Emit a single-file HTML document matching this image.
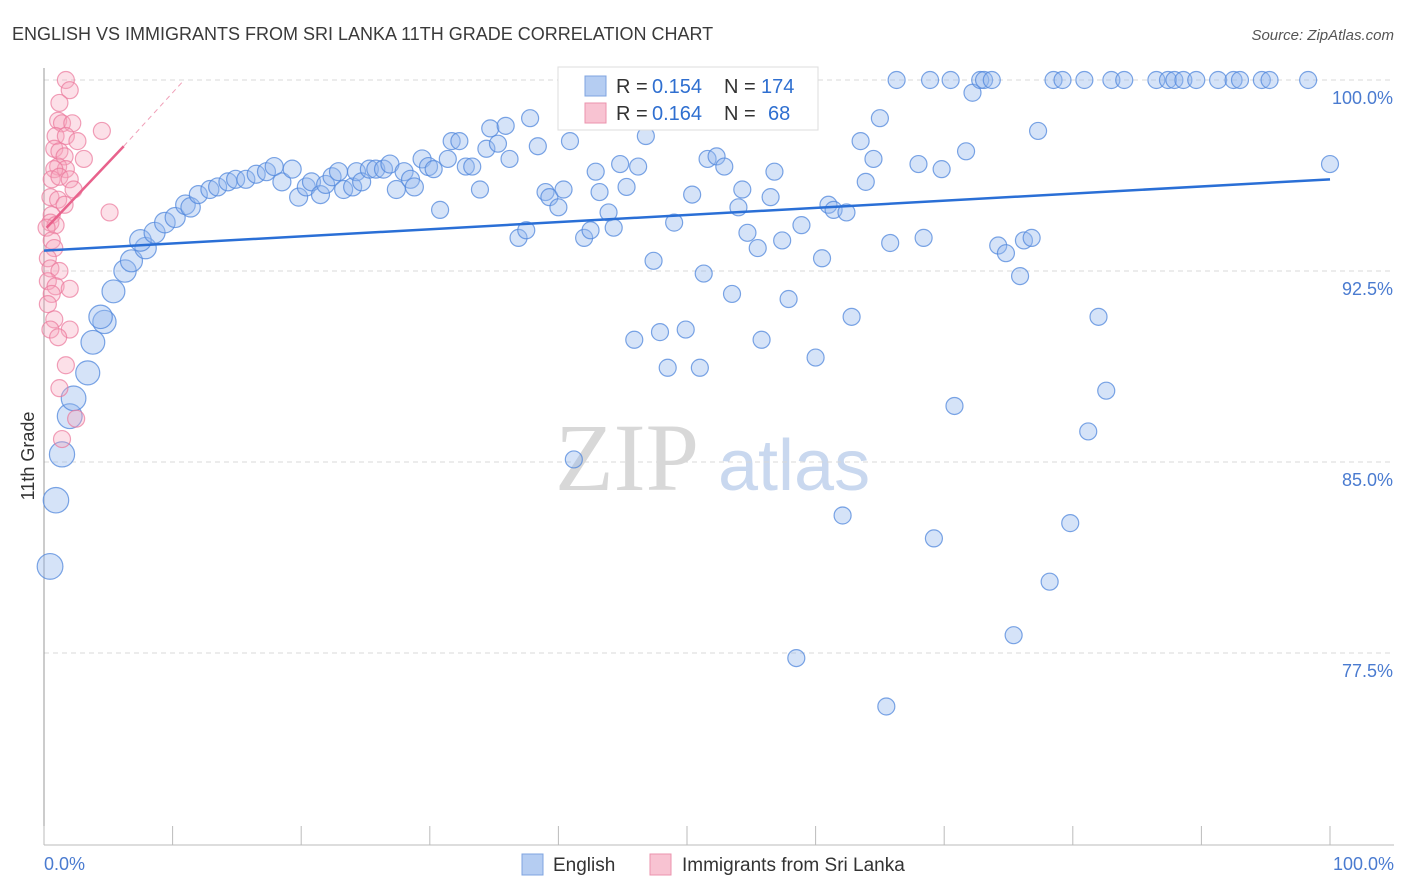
<!DOCTYPE html>
<html><head><meta charset="utf-8"><style>
body{margin:0;background:#fff;font-family:"Liberation Sans",sans-serif}
svg{display:block}
</style></head><body>
<svg id="chart" width="1406" height="892" xmlns="http://www.w3.org/2000/svg" font-family="Liberation Sans, sans-serif">
<text x="12" y="40" font-size="18" fill="#3a3a3a">ENGLISH VS IMMIGRANTS FROM SRI LANKA 11TH GRADE CORRELATION CHART</text>
<text x="1394" y="40" font-size="15" fill="#555" text-anchor="end" font-style="italic">Source: ZipAtlas.com</text>
<g>
<text x="555" y="490" font-size="96" font-family="Liberation Serif, serif" fill="#d8d8d8">ZIP</text>
<text x="718" y="490" font-size="72" fill="#c9d8ef">atlas</text>
</g>
<g id="grid"></g>
<g id="axes"></g>
<g id="pts"></g>
<g id="trend"></g>
<g>
<rect x="558" y="67" width="260" height="63" fill="#fff" stroke="#ddd"/>
<rect x="585" y="76" width="21" height="20" fill="#b5cdf2" stroke="#7fa4e0"/>
<text x="616" y="93" font-size="20" fill="#333">R =</text>
<text x="652" y="93" font-size="20" fill="#2f6fd0">0.154</text>
<text x="724" y="93" font-size="20" fill="#333">N =</text>
<text x="761" y="93" font-size="20" fill="#2f6fd0">174</text>
<rect x="585" y="103" width="21" height="20" fill="#f8c3d2" stroke="#eb93ad"/>
<text x="616" y="120" font-size="20" fill="#333">R =</text>
<text x="652" y="120" font-size="20" fill="#2f6fd0">0.164</text>
<text x="724" y="120" font-size="20" fill="#333">N =</text>
<text x="768" y="120" font-size="20" fill="#2f6fd0">68</text>
</g>
<g>
<rect x="522" y="854" width="21" height="21" fill="#b5cdf2" stroke="#7fa4e0"/>
<text x="553" y="871" font-size="19" fill="#333">English</text>
<rect x="650" y="854" width="21" height="21" fill="#f8c3d2" stroke="#eb93ad"/>
<text x="682" y="871" font-size="19" fill="#333">Immigrants from Sri Lanka</text>
</g>
<text transform="translate(34,456) rotate(-90)" font-size="18" fill="#333" text-anchor="middle">11th Grade</text>
</svg>
<script>
const yTicks=[100,92.5,85,77.5];
const yTickLabels=["100.0%","92.5%","85.0%","77.5%"];
const blueX=[0.47,0.93,1.4,2.0,2.3,3.4,3.8,4.7,4.4,5.4,6.3,6.8,7.9,7.5,8.6,9.4,10.2,11.0,11.4,12.0,12.9,13.5,14.3,14.9,15.7,16.5,17.3,17.9,18.5,19.3,19.8,20.4,20.8,21.5,21.9,22.4,22.9,23.3,24.0,24.3,24.7,25.3,25.8,26.4,26.9,27.4,28.0,28.5,28.8,29.4,29.9,30.3,30.8,31.4,31.7,32.3,32.8,33.3,33.9,34.4,34.7,35.3,35.9,36.2,36.9,37.5,37.8,38.4,39.0,39.3,40.0,40.4,40.9,41.2,42.0,42.5,42.9,43.2,43.9,44.3,44.8,45.3,45.9,46.2,46.8,47.4,47.9,48.5,49.0,49.9,50.4,51.0,51.3,51.6,52.3,52.9,53.5,54.0,54.3,54.7,55.5,55.8,56.5,56.8,57.4,57.9,58.5,58.9,59.4,60.0,60.5,61.0,61.4,62.1,62.4,62.8,63.5,63.9,64.5,65.0,65.5,65.8,66.3,68.0,68.4,68.9,69.2,69.8,70.5,70.8,71.7,72.2,72.8,73.1,73.7,74.2,74.8,75.4,75.9,76.2,76.8,77.3,78.2,78.5,79.2,79.8,80.9,81.2,82.0,82.6,83.0,84.0,86.5,87.4,87.9,88.6,89.6,91.3,92.5,93.0,94.7,95.3,98.3,100];
const blueY=[80.9,83.5,85.3,86.8,87.5,88.5,89.7,90.5,90.7,91.7,92.5,92.9,93.4,93.7,94.0,94.4,94.6,95.1,95.0,95.5,95.7,95.8,96.0,96.1,96.1,96.3,96.4,96.6,96.0,96.5,95.4,95.8,96.0,95.5,95.9,96.2,96.4,95.7,95.8,96.4,96.0,96.5,96.5,96.5,96.7,95.7,96.4,96.1,95.8,96.9,96.6,96.5,94.9,96.9,97.6,97.6,96.6,96.6,95.7,97.3,98.1,97.5,98.2,96.9,93.8,94.1,98.5,97.4,95.6,95.4,95.0,95.7,97.6,85.1,93.8,94.1,96.4,95.6,94.8,94.2,96.7,95.8,89.8,96.6,97.8,92.9,90.1,88.7,94.4,90.2,95.5,88.7,92.4,96.9,97.0,96.6,91.6,95.0,95.7,94.0,93.4,89.8,95.4,96.4,93.7,91.4,77.3,94.3,99.5,89.1,93.0,95.1,94.9,82.9,94.8,90.7,97.6,96.0,96.9,98.5,75.4,93.6,100,96.7,93.8,100,82.0,96.5,100,87.2,97.2,99.5,100,100,100,93.5,93.2,78.2,92.3,93.7,93.8,98.0,80.3,100,100,82.6,100,86.2,90.7,87.8,100,100,100,100,100,100,100,100,100,100,100,100,100,96.7];
const pinkX=[1.7,2.0,1.2,1.1,1.4,2.2,4.5,0.9,1.7,2.6,0.8,1.2,1.6,3.1,1.1,1.7,0.8,0.6,1.2,2.0,2.3,0.5,1.1,1.6,5.1,0.6,0.5,0.9,0.2,0.6,0.8,0.3,0.5,1.2,0.3,0.9,0.6,2.0,0.3,0.8,0.5,2.0,1.1,1.7,1.2,2.5,1.4];
const pinkY=[100,99.6,99.1,98.4,98.3,98.3,98.0,97.8,97.8,97.6,97.3,97.2,97.0,96.9,96.6,96.5,96.5,96.1,96.2,96.1,95.7,95.4,95.3,95.1,94.8,94.7,94.4,94.3,94.2,93.7,93.4,93.0,92.6,92.5,92.1,91.9,91.6,91.8,91.2,90.6,90.2,90.2,89.9,88.8,87.9,86.7,85.9];
const blueTrend=[[0,93.3],[100,96.1]];
const pinkTrend=[[0.2,94.2],[6.2,97.4]];
const pinkTrendExt=[[6.2,97.4],[10.9,100]];

const NS="http://www.w3.org/2000/svg";
const X0=44,X1=1330,Y100=80,PXPER=191/7.5;
const sx=v=>X0+(X1-X0)*v/100;
const sy=v=>Y100+(100-v)*PXPER;
function mk(tag,attrs,parent){const e=document.createElementNS(NS,tag);for(const k in attrs)e.setAttribute(k,attrs[k]);parent.appendChild(e);return e;}
const grid=document.getElementById('grid'),axes=document.getElementById('axes');
yTicks.forEach((t,i)=>{
  const l=mk('line',{x1:44,x2:1394,y1:sy(t),y2:sy(t),stroke:'#d8d8d8','stroke-dasharray':'5,4'},grid);
  
  
  const tx=mk('text',{x:1393,y:sy(t)+24,'font-size':18,fill:'#4a7bd0','text-anchor':'end'},axes);
  tx.textContent=yTickLabels[i];
  
  
});
mk('line',{x1:44,x2:44,y1:68,y2:845,stroke:'#999'},axes);
mk('line',{x1:44,x2:1394,y1:845,y2:845,stroke:'#bbb'},axes);
for(let i=0;i<=10;i++){const t=mk('line',{x1:sx(i*10),x2:sx(i*10),y1:826,y2:845,stroke:'#bbb'},axes);
  
  }
let a=mk('text',{x:44,y:870,'font-size':18,fill:'#4a7bd0'},axes);a.textContent='0.0%';


a=mk('text',{x:1394,y:870,'font-size':18,fill:'#4a7bd0','text-anchor':'end'},axes);a.textContent='100.0%';


const pts=document.getElementById('pts');
blueX.forEach((x,i)=>{
  const r=x<12?13-(x/12)*3.5:(x<30?9:8.5);
  const c=mk('circle',{cx:sx(x),cy:sy(blueY[i]),r:r,fill:'rgba(150,185,238,0.4)',stroke:'rgba(80,135,220,0.75)','stroke-width':1.2},pts);
  
  
});
pinkX.forEach((x,i)=>{
  const c=mk('circle',{cx:sx(x),cy:sy(pinkY[i]),r:8.5,fill:'rgba(245,165,190,0.35)',stroke:'rgba(235,120,155,0.7)','stroke-width':1.2},pts);
  
  
});
const tr=document.getElementById('trend');
let ln=mk('line',{x1:sx(blueTrend[0][0]),y1:sy(blueTrend[0][1]),x2:sx(blueTrend[1][0]),y2:sy(blueTrend[1][1]),stroke:'#2a6fd6','stroke-width':2.5},tr);


ln=mk('line',{x1:sx(pinkTrend[0][0]),y1:sy(pinkTrend[0][1]),x2:sx(pinkTrend[1][0]),y2:sy(pinkTrend[1][1]),stroke:'#e8628c','stroke-width':2.5},tr);


ln=mk('line',{x1:sx(pinkTrendExt[0][0]),y1:sy(pinkTrendExt[0][1]),x2:sx(pinkTrendExt[1][0]),y2:sy(pinkTrendExt[1][1]),stroke:'#f0a0b8','stroke-width':1,'stroke-dasharray':'5,4'},tr);


</script>
</body></html>
